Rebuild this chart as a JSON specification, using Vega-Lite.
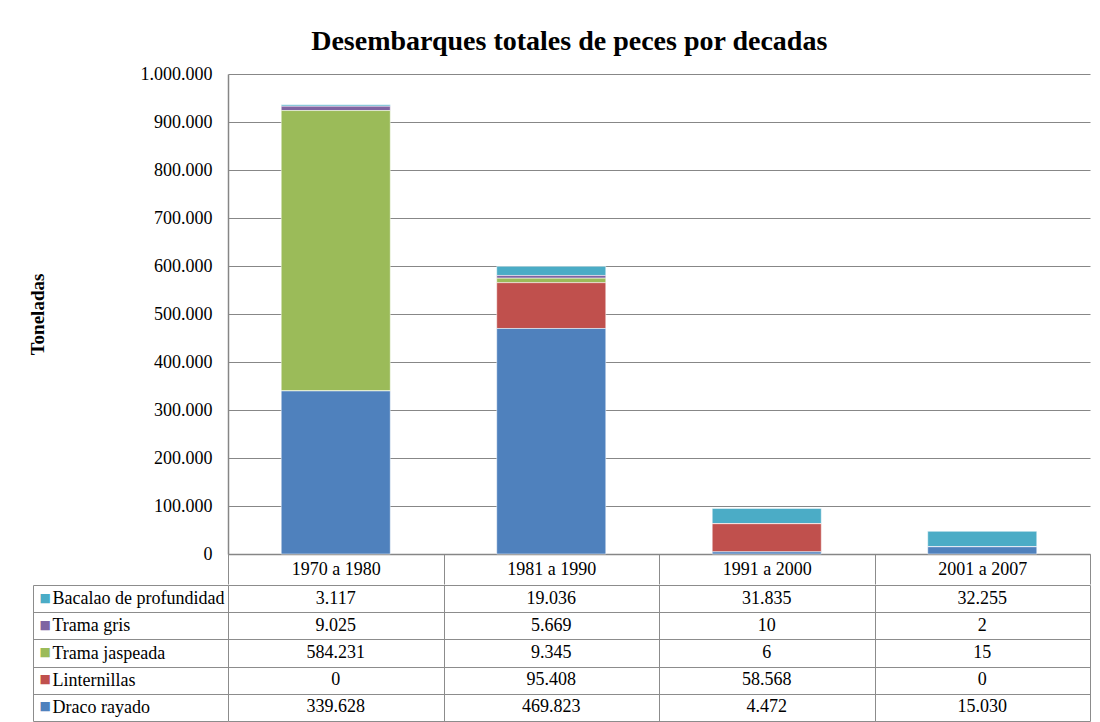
{
  "$schema": "https://vega.github.io/schema/vega-lite/v6.json",
  "padding": {"left": 28, "top": 28, "right": 5, "bottom": 0},
  "config": {
    "locale": {"number": {"decimal": ",", "thousands": ".", "grouping": [3], "currency": ["", " €"]}},
    "font": "Liberation Serif",
    "view": {"stroke": null},
    "axis": {"labelFont": "Liberation Serif", "labelColor": "#000000", "titleFont": "Liberation Serif", "titleColor": "#000000"}
  },
  "title": {"text": "Desembarques totales de peces por decadas", "font": "Liberation Serif", "fontSize": 28, "fontWeight": "bold", "color": "#000000", "anchor": "middle", "offset": 9, "dx": 10},
  "datasets": {
    "d": [
      {"decada": "1970 a 1980", "especie": "Bacalao de profundidad", "toneladas": 3117},
      {"decada": "1970 a 1980", "especie": "Trama gris", "toneladas": 9025},
      {"decada": "1970 a 1980", "especie": "Trama jaspeada", "toneladas": 584231},
      {"decada": "1970 a 1980", "especie": "Linternillas", "toneladas": 0},
      {"decada": "1970 a 1980", "especie": "Draco rayado", "toneladas": 339628},
      {"decada": "1981 a 1990", "especie": "Bacalao de profundidad", "toneladas": 19036},
      {"decada": "1981 a 1990", "especie": "Trama gris", "toneladas": 5669},
      {"decada": "1981 a 1990", "especie": "Trama jaspeada", "toneladas": 9345},
      {"decada": "1981 a 1990", "especie": "Linternillas", "toneladas": 95408},
      {"decada": "1981 a 1990", "especie": "Draco rayado", "toneladas": 469823},
      {"decada": "1991 a 2000", "especie": "Bacalao de profundidad", "toneladas": 31835},
      {"decada": "1991 a 2000", "especie": "Trama gris", "toneladas": 10},
      {"decada": "1991 a 2000", "especie": "Trama jaspeada", "toneladas": 6},
      {"decada": "1991 a 2000", "especie": "Linternillas", "toneladas": 58568},
      {"decada": "1991 a 2000", "especie": "Draco rayado", "toneladas": 4472},
      {"decada": "2001 a 2007", "especie": "Bacalao de profundidad", "toneladas": 32255},
      {"decada": "2001 a 2007", "especie": "Trama gris", "toneladas": 2},
      {"decada": "2001 a 2007", "especie": "Trama jaspeada", "toneladas": 15},
      {"decada": "2001 a 2007", "especie": "Linternillas", "toneladas": 0},
      {"decada": "2001 a 2007", "especie": "Draco rayado", "toneladas": 15030}
    ]
  },
  "spacing": -9,
  "vconcat": [
    {
      "width": 862,
      "height": 480,
      "data": {"name": "d"},
      "transform": [
        {"calculate": "indexof(['Draco rayado','Linternillas','Trama jaspeada','Trama gris','Bacalao de profundidad'], datum.especie)", "as": "orden"}
      ],
      "mark": {"type": "bar", "width": {"band": 0.506}, "stroke": "#ffffff", "strokeOpacity": 0.5, "strokeWidth": 1},
      "encoding": {
        "x": {
          "field": "decada", "type": "nominal",
          "scale": {"paddingInner": 0, "paddingOuter": 0},
          "axis": {"title": null, "labelAngle": 0, "tickBand": "extent", "tickSize": 30, "tickColor": "#8c8c8c", "domainColor": "#868686", "domainWidth": 1.5, "labelBaseline": "middle", "labelPadding": -15, "labelFontSize": 18, "grid": false}
        },
        "y": {
          "field": "toneladas", "type": "quantitative", "stack": "zero",
          "scale": {"domain": [0, 1000000]},
          "axis": {"title": "Toneladas", "titleFontSize": 19, "titleFontWeight": "bold", "titlePadding": 93, "values": [0, 100000, 200000, 300000, 400000, 500000, 600000, 700000, 800000, 900000, 1000000], "format": ",d", "labelFontSize": 18, "labelPadding": 16, "ticks": false, "grid": true, "gridColor": "#878787", "domainColor": "#868686", "domainWidth": 1.5}
        },
        "color": {
          "field": "especie", "type": "nominal",
          "scale": {"domain": ["Draco rayado", "Linternillas", "Trama jaspeada", "Trama gris", "Bacalao de profundidad"], "range": ["#4F81BD", "#C0504D", "#9BBB59", "#8064A2", "#4BACC6"]},
          "legend": null
        },
        "order": {"field": "orden", "type": "quantitative", "sort": "ascending"}
      }
    },
    {
      "width": 862,
      "height": 136,
      "data": {"name": "d"},
      "layer": [
        {
          "mark": {"type": "text", "font": "Liberation Serif", "fontSize": 18, "color": "#000000"},
          "encoding": {
            "x": {
              "field": "decada", "type": "nominal",
              "scale": {"paddingInner": 0, "paddingOuter": 0},
              "axis": {"title": null, "grid": true, "tickBand": "extent", "gridColor": "#8c8c8c", "labels": false, "ticks": false, "domain": false}
            },
            "y": {
              "field": "especie", "type": "nominal",
              "sort": ["Bacalao de profundidad", "Trama gris", "Trama jaspeada", "Linternillas", "Draco rayado"],
              "scale": {"paddingInner": 0, "paddingOuter": 0},
              "axis": {"orient": "left", "title": null, "grid": true, "tickBand": "extent", "gridColor": "#8c8c8c", "ticks": true, "tickSize": 195, "tickColor": "#8c8c8c", "domain": false, "labelAlign": "left", "labelPadding": -19, "labelFontSize": 18}
            },
            "text": {"field": "toneladas", "type": "quantitative", "format": ",d"}
          }
        },
        {
          "mark": {"type": "text", "opacity": 0},
          "encoding": {
            "y": {
              "field": "especie", "type": "nominal",
              "sort": ["Bacalao de profundidad", "Trama gris", "Trama jaspeada", "Linternillas", "Draco rayado"],
              "axis": {"orient": "left", "offset": 195, "title": null, "grid": false, "ticks": false, "domain": true, "domainColor": "#8c8c8c", "labelExpr": "'■'", "labelAlign": "left", "labelPadding": -6, "labelFont": "DejaVu Sans", "labelFontSize": 12, "labelOffset": -1,
                "labelColor": {"condition": [
                  {"test": "datum.value === 'Draco rayado'", "value": "#4F81BD"},
                  {"test": "datum.value === 'Linternillas'", "value": "#C0504D"},
                  {"test": "datum.value === 'Trama jaspeada'", "value": "#9BBB59"},
                  {"test": "datum.value === 'Trama gris'", "value": "#8064A2"}
                ], "value": "#4BACC6"}
              }
            },
            "text": {"value": ""}
          }
        }
      ],
      "resolve": {"axis": {"y": "independent"}}
    }
  ]
}
